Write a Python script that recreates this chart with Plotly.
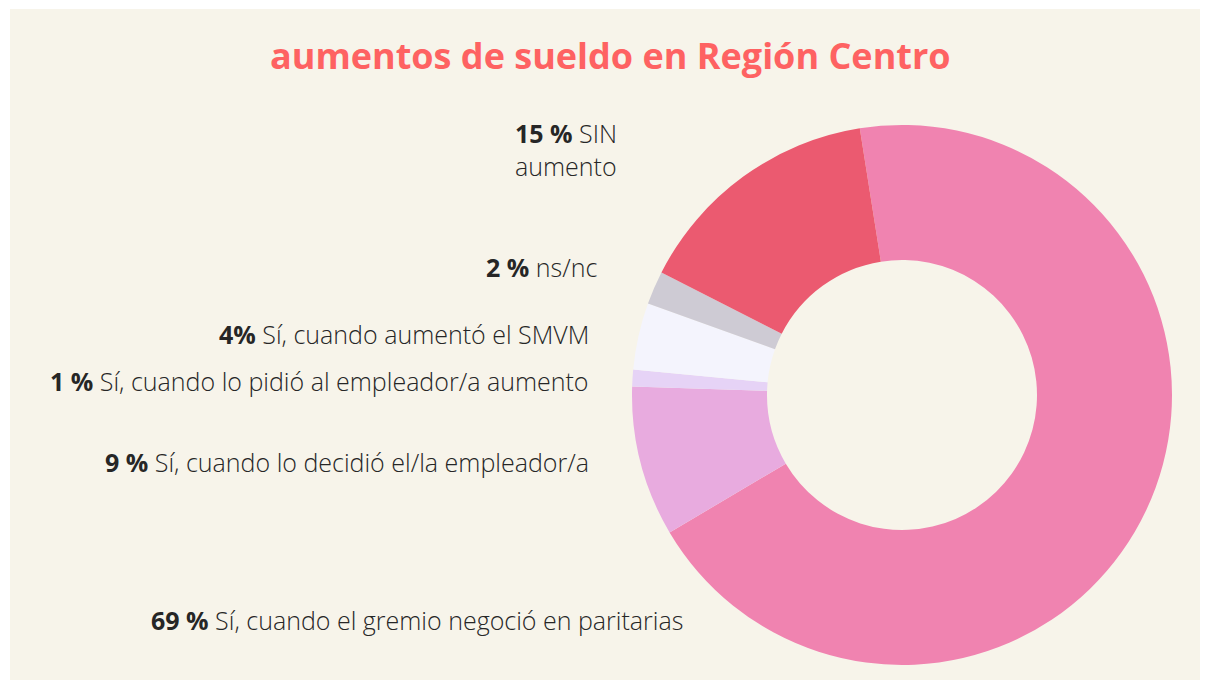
import plotly.graph_objects as go

W, H = 1200, 672   # fits a 1208x680 window with the 8px page margin
OX, OY = 8, 8      # page body margin offset

categories = [
    "Sí, cuando el gremio negoció en paritarias",
    "Sí, cuando lo decidió el/la empleador/a",
    "Sí, cuando lo pidió al empleador/a aumento",
    "Sí, cuando aumentó el SMVM",
    "ns/nc",
    "SIN aumento",
]
values = [69, 9, 1, 4, 2, 15]
colors = ["#f083b0", "#e8abdf", "#e6d3f6", "#f4f4fd", "#cecbd4", "#eb5a70"]

label_texts = [
    "<b>69 %</b> Sí, cuando el gremio negoció en paritarias",
    "<b>9 %</b> Sí, cuando lo decidió el/la empleador/a",
    "<b>1 %</b> Sí, cuando lo pidió al empleador/a aumento",
    "<b>4%</b> Sí, cuando aumentó el SMVM",
    "<b>2 %</b> ns/nc",
    "<b>15 %</b> SIN<br>aumento",
]


def px(x):
    return (x - OX) / W


def py(y):
    return 1 - (y - OY) / H


cx, cy, r = 902, 395, 270

fig = go.Figure(go.Pie(
    labels=categories,
    values=values,
    marker=dict(colors=colors, line=dict(width=0)),
    hole=0.5,
    sort=False,
    direction="clockwise",
    rotation=-9,
    textinfo="none",
    hoverinfo="label+percent",
    showlegend=False,
    domain=dict(x=[px(cx - r), px(cx + r)], y=[py(cy + r), py(cy - r)]),
))

label_pos = [
    (149, 620, "left"),
    (591, 462, "right"),
    (591, 381, "right"),
    (591, 334, "right"),
    (599, 267, "right"),
    (513, 149, "left"),
]

annotations = []
for t, (x, y, anc) in zip(label_texts, label_pos):
    annotations.append(dict(
        text=t, x=px(x), y=py(y), xref="paper", yref="paper",
        xanchor=anc, yanchor="middle", align="left", showarrow=False,
        font=dict(family="Open Sans", size=25, color="#262626", weight=300),
    ))

annotations.append(dict(
    text="<b>aumentos de sueldo en Región Centro</b>",
    x=px(611), y=py(56), xref="paper", yref="paper",
    xanchor="center", yanchor="middle", showarrow=False,
    font=dict(family="Open Sans", size=36, color="#fe6262"),
))

fig.update_layout(
    width=W, height=H,
    margin=dict(l=0, r=0, t=0, b=0),
    paper_bgcolor="#f7f4ea",
    plot_bgcolor="#f7f4ea",
    annotations=annotations,
    shapes=[
        dict(type="rect", xref="paper", yref="paper",
             x0=0, x1=px(10), y0=0, y1=1,
             fillcolor="white", line=dict(width=0), layer="below"),
        dict(type="rect", xref="paper", yref="paper",
             x0=0, x1=1, y0=py(9), y1=1,
             fillcolor="white", line=dict(width=0), layer="below"),
    ],
)

fig.write_html("out.html")
